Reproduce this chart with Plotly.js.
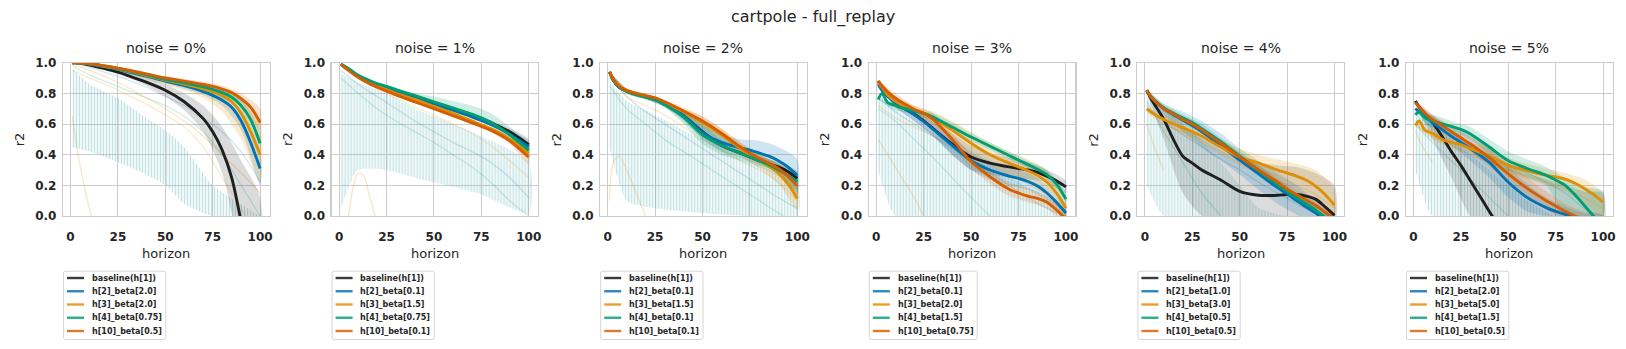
<!DOCTYPE html>
<html><head><meta charset="utf-8">
<script src="https://cdn.plot.ly/plotly-3.0.1.min.js"></script>
<style>html,body{margin:0;padding:0;background:#fff;} #chart{width:1626px;height:349px;}</style>
</head><body><div id="chart"></div>
<script>
// ---------- data ----------
const TITLE = 'cartpole - full_replay';
const NOISE = ['0%', '1%', '2%', '3%', '4%', '5%'];
const X = [1,3,6,10,15,20,25,30,40,50,60,70,75,80,85,90,95,100];
const BX = [1,10,20,30,40,50,60,70,80,90,100];
const CX = [1,10,25,40,50,60,75,100];
const FX = [1,10,20,30,40,50,60,70,80,90,100];
const XTICKS = [0,25,50,75,100];
const YTICKS = [0,0.2,0.4,0.6,0.8,1.0];

const p0_labels = ['baseline(h[1])','h[2]_beta[2.0]','h[3]_beta[2.0]','h[4]_beta[0.75]','h[10]_beta[0.5]'];
const p1_labels = ['baseline(h[1])','h[2]_beta[0.1]','h[3]_beta[1.5]','h[4]_beta[0.75]','h[10]_beta[0.1]'];
const p2_labels = ['baseline(h[1])','h[2]_beta[0.1]','h[3]_beta[1.5]','h[4]_beta[0.1]','h[10]_beta[0.1]'];
const p3_labels = ['baseline(h[1])','h[2]_beta[0.1]','h[3]_beta[2.0]','h[4]_beta[1.5]','h[10]_beta[0.75]'];
const p4_labels = ['baseline(h[1])','h[2]_beta[1.0]','h[3]_beta[3.0]','h[4]_beta[0.5]','h[10]_beta[0.5]'];
const p5_labels = ['baseline(h[1])','h[2]_beta[2.0]','h[3]_beta[5.0]','h[4]_beta[1.5]','h[10]_beta[0.5]'];

// main series (values at X)
const p0_base = [1.0,1.0,0.995,0.985,0.97,0.955,0.938,0.918,0.873,0.82,0.745,0.635,0.55,0.43,0.25,-0.04,null,null];
const p0_h2   = [1.0,1.0,0.997,0.99,0.98,0.968,0.956,0.942,0.912,0.88,0.85,0.812,0.787,0.755,0.71,0.62,0.48,0.31];
const p0_h3   = [1.0,1.0,0.997,0.992,0.983,0.972,0.96,0.947,0.918,0.886,0.86,0.83,0.81,0.785,0.745,0.67,0.55,0.40];
const p0_h4   = [1.0,1.0,0.998,0.993,0.985,0.974,0.963,0.95,0.922,0.892,0.868,0.842,0.826,0.805,0.775,0.72,0.63,0.475];
const p0_h10  = [1.0,1.0,0.998,0.994,0.986,0.976,0.965,0.953,0.927,0.90,0.88,0.858,0.845,0.828,0.805,0.765,0.71,0.61];

const p1_base = [0.99,0.975,0.95,0.915,0.885,0.86,0.84,0.82,0.78,0.74,0.70,0.66,0.635,0.61,0.58,0.55,0.51,0.465];
const p1_h2   = [0.99,0.972,0.948,0.913,0.883,0.858,0.835,0.815,0.775,0.73,0.69,0.647,0.623,0.597,0.567,0.532,0.492,0.45];
const p1_h3   = [0.99,0.97,0.945,0.91,0.877,0.85,0.825,0.80,0.76,0.715,0.67,0.62,0.595,0.57,0.54,0.50,0.46,0.41];
const p1_h4   = [0.99,0.975,0.953,0.918,0.889,0.864,0.845,0.825,0.785,0.745,0.705,0.665,0.64,0.61,0.572,0.53,0.48,0.43];
const p1_h10  = [0.99,0.968,0.94,0.905,0.87,0.84,0.815,0.79,0.745,0.70,0.655,0.608,0.585,0.56,0.528,0.49,0.44,0.385];

const p2_base = [0.94,0.885,0.84,0.815,0.795,0.778,0.76,0.73,0.655,0.55,0.46,0.41,0.385,0.36,0.34,0.32,0.29,0.245];
const p2_h2   = [0.94,0.885,0.84,0.815,0.795,0.778,0.76,0.73,0.655,0.545,0.48,0.445,0.43,0.41,0.39,0.36,0.32,0.265];
const p2_h3   = [0.94,0.89,0.845,0.82,0.80,0.783,0.767,0.74,0.68,0.61,0.53,0.44,0.395,0.36,0.325,0.28,0.21,0.115];
const p2_h4   = [0.94,0.885,0.84,0.813,0.792,0.775,0.757,0.725,0.645,0.53,0.46,0.41,0.385,0.36,0.335,0.30,0.265,0.225];
const p2_h10  = [0.94,0.89,0.845,0.82,0.80,0.785,0.77,0.745,0.685,0.62,0.54,0.45,0.41,0.375,0.345,0.31,0.26,0.195];

const p3_base = [0.88,0.84,0.79,0.74,0.70,0.665,0.62,0.57,0.47,0.385,0.345,0.32,0.31,0.30,0.285,0.26,0.23,0.19];
const p3_h2   = [0.86,0.82,0.78,0.74,0.70,0.66,0.615,0.565,0.46,0.36,0.30,0.26,0.245,0.225,0.195,0.15,0.09,0.02];
const p3_h3   = [0.87,0.84,0.79,0.75,0.715,0.69,0.67,0.64,0.56,0.475,0.40,0.345,0.32,0.295,0.265,0.22,0.15,0.05];
const p3_h4   = [0.76,0.80,0.74,0.72,0.70,0.685,0.67,0.645,0.58,0.515,0.455,0.395,0.365,0.335,0.305,0.27,0.21,0.11];
const p3_h10  = [0.88,0.85,0.81,0.77,0.73,0.695,0.67,0.63,0.50,0.355,0.256,0.175,0.15,0.13,0.115,0.09,0.04,-0.02];

const p4_base = [0.82,0.77,0.71,0.63,0.50,0.39,0.345,0.30,0.235,0.16,0.135,0.135,0.14,0.14,0.13,0.11,0.06,0.005];
const p4_h2   = [0.82,0.78,0.74,0.70,0.66,0.625,0.59,0.55,0.46,0.365,0.275,0.185,0.145,0.10,0.06,0.02,-0.03,-0.07];
const p4_h3   = [0.70,0.68,0.655,0.63,0.60,0.575,0.55,0.52,0.45,0.385,0.345,0.30,0.28,0.26,0.235,0.195,0.14,0.07];
const p4_h4   = [0.82,0.78,0.745,0.705,0.67,0.64,0.61,0.57,0.485,0.39,0.295,0.205,0.16,0.12,0.08,0.04,-0.01,-0.05];
const p4_h10  = [0.82,0.78,0.74,0.70,0.665,0.63,0.60,0.56,0.475,0.385,0.30,0.22,0.175,0.14,0.105,0.07,0.025,-0.02];

const p5_base = [0.75,0.71,0.67,0.61,0.52,0.42,0.33,0.23,0.03,-0.17,null,null,null,null,null,null,null,null];
const p5_h2   = [0.70,0.68,0.65,0.61,0.565,0.52,0.48,0.44,0.35,0.22,0.12,0.055,0.03,0.01,-0.01,null,null,null];
const p5_h3   = [0.59,0.62,0.56,0.54,0.50,0.48,0.465,0.44,0.39,0.33,0.295,0.265,0.255,0.24,0.215,0.18,0.14,0.09];
const p5_h4   = [0.66,0.68,0.64,0.62,0.60,0.585,0.565,0.535,0.45,0.36,0.31,0.265,0.235,0.20,0.14,0.07,0.0,-0.05];
const p5_h10  = [0.74,0.71,0.67,0.63,0.59,0.55,0.51,0.47,0.38,0.275,0.18,0.10,0.065,0.03,0.0,-0.02,null,null];

// confidence bands (values at BX)
const p0_base_lo = [1.0,0.98,0.945,0.905,0.85,0.78,0.69,0.55,0.28,-0.3,-1.0];
const p0_base_hi = [1.0,0.99,0.965,0.94,0.90,0.86,0.80,0.72,0.58,0.36,0.12];
const p0_h2_lo = [1.0,0.985,0.955,0.93,0.895,0.865,0.83,0.79,0.72,0.56,0.2];
const p0_h2_hi = [1.0,0.995,0.97,0.945,0.92,0.89,0.86,0.83,0.78,0.66,0.42];
const p0_h3_lo = [1.0,0.985,0.955,0.925,0.89,0.855,0.82,0.77,0.68,0.50,0.22];
const p0_h3_hi = [1.0,0.995,0.97,0.945,0.915,0.89,0.87,0.85,0.82,0.76,0.62];
const p0_h4_lo = [1.0,0.99,0.96,0.935,0.905,0.875,0.85,0.82,0.77,0.68,0.42];
const p0_h4_hi = [1.0,0.995,0.975,0.955,0.925,0.90,0.88,0.86,0.83,0.76,0.55];
const p0_h10_lo = [1.0,0.99,0.97,0.945,0.915,0.89,0.865,0.84,0.81,0.74,0.56];
const p0_h10_hi = [1.0,0.995,0.98,0.96,0.935,0.91,0.895,0.875,0.85,0.80,0.70];

const p1_base_lo = [0.99,0.905,0.85,0.81,0.77,0.73,0.69,0.65,0.60,0.53,0.43];
const p1_base_hi = [0.99,0.925,0.87,0.83,0.79,0.75,0.71,0.67,0.625,0.57,0.50];
const p1_h2_lo = [0.99,0.905,0.85,0.805,0.765,0.72,0.68,0.635,0.585,0.51,0.41];
const p1_h2_hi = [0.99,0.925,0.87,0.825,0.785,0.74,0.70,0.655,0.605,0.55,0.49];
const p1_h3_lo = [0.99,0.90,0.84,0.79,0.75,0.705,0.66,0.61,0.56,0.48,0.37];
const p1_h3_hi = [0.99,0.92,0.86,0.81,0.77,0.725,0.68,0.63,0.58,0.52,0.45];
const p1_h4_lo = [0.99,0.91,0.855,0.815,0.775,0.725,0.685,0.645,0.595,0.51,0.39];
const p1_h4_hi = [0.99,0.93,0.875,0.835,0.80,0.78,0.75,0.72,0.67,0.58,0.47];
const p1_h10_lo = [0.99,0.895,0.83,0.78,0.735,0.69,0.645,0.60,0.545,0.47,0.34];
const p1_h10_hi = [0.99,0.915,0.85,0.80,0.755,0.71,0.665,0.62,0.575,0.51,0.42];

const p2_base_lo = [0.94,0.80,0.76,0.71,0.62,0.50,0.42,0.38,0.33,0.29,0.20];
const p2_base_hi = [0.94,0.83,0.79,0.75,0.68,0.60,0.50,0.44,0.39,0.35,0.29];
const p2_h2_lo = [0.94,0.80,0.765,0.72,0.63,0.51,0.44,0.40,0.35,0.27,0.13];
const p2_h2_hi = [0.94,0.83,0.79,0.74,0.68,0.59,0.53,0.50,0.49,0.45,0.37];
const p2_h3_lo = [0.94,0.80,0.765,0.72,0.65,0.57,0.48,0.39,0.31,0.21,0.04];
const p2_h3_hi = [0.94,0.83,0.795,0.75,0.70,0.65,0.57,0.48,0.40,0.34,0.22];
const p2_h4_lo = [0.94,0.80,0.76,0.71,0.60,0.47,0.40,0.36,0.32,0.26,0.17];
const p2_h4_hi = [0.94,0.83,0.80,0.75,0.68,0.60,0.54,0.46,0.40,0.34,0.27];
const p2_h10_lo = [0.94,0.80,0.765,0.725,0.66,0.59,0.51,0.42,0.35,0.28,0.15];
const p2_h10_hi = [0.94,0.83,0.795,0.755,0.71,0.65,0.57,0.48,0.40,0.34,0.24];

const p3_base_lo = [0.88,0.71,0.62,0.52,0.40,0.30,0.27,0.25,0.24,0.22,0.15];
const p3_base_hi = [0.88,0.77,0.71,0.63,0.54,0.46,0.41,0.38,0.35,0.30,0.23];
const p3_h2_lo = [0.86,0.71,0.62,0.52,0.40,0.30,0.24,0.20,0.17,0.10,-0.03];
const p3_h2_hi = [0.86,0.77,0.70,0.61,0.52,0.42,0.36,0.31,0.28,0.20,0.07];
const p3_h3_lo = [0.87,0.72,0.66,0.60,0.50,0.40,0.33,0.27,0.22,0.13,0.0];
const p3_h3_hi = [0.87,0.78,0.72,0.68,0.62,0.55,0.48,0.42,0.37,0.30,0.12];
const p3_h4_lo = [0.76,0.69,0.665,0.62,0.56,0.49,0.43,0.37,0.31,0.24,0.07];
const p3_h4_hi = [0.76,0.74,0.70,0.67,0.61,0.54,0.48,0.42,0.36,0.30,0.15];
const p3_h10_lo = [0.88,0.74,0.66,0.59,0.46,0.31,0.21,0.13,0.09,0.05,-0.06];
const p3_h10_hi = [0.88,0.80,0.72,0.67,0.54,0.40,0.30,0.22,0.18,0.13,0.02];

const p4_base_lo = [0.82,0.50,0.15,0.0,-0.05,-0.05,-0.05,-0.05,-0.05,-0.05,-0.05];
const p4_base_hi = [0.82,0.70,0.60,0.50,0.43,0.37,0.35,0.33,0.32,0.28,0.20];
const p4_h2_lo = [0.82,0.66,0.55,0.45,0.36,0.27,0.17,0.08,0.01,-0.05,-0.1];
const p4_h2_hi = [0.82,0.73,0.68,0.62,0.54,0.44,0.36,0.28,0.2,0.1,0.0];
const p4_h3_lo = [0.70,0.60,0.53,0.47,0.40,0.33,0.28,0.22,0.17,0.10,0.0];
const p4_h3_hi = [0.70,0.66,0.61,0.56,0.50,0.44,0.40,0.37,0.34,0.30,0.17];
const p4_h4_lo = [0.82,0.68,0.60,0.54,0.46,0.36,0.26,0.17,0.09,0.01,-0.07];
const p4_h4_hi = [0.82,0.73,0.66,0.60,0.51,0.42,0.33,0.24,0.15,0.07,-0.02];
const p4_h10_lo = [0.82,0.68,0.61,0.54,0.45,0.36,0.27,0.19,0.11,0.04,-0.05];
const p4_h10_hi = [0.82,0.72,0.65,0.58,0.50,0.41,0.33,0.25,0.17,0.10,0.02];

const p5_base_lo = [0.75,0.50,0.25,0.0,-0.1,-0.1,-0.1,-0.1,-0.1,-0.1,-0.1];
const p5_base_hi = [0.75,0.66,0.56,0.47,0.40,0.34,0.28,0.24,0.20,0.16,0.15];
const p5_h2_lo = [0.70,0.56,0.46,0.36,0.25,0.12,0.03,0.0,-0.03,-0.05,-0.05];
const p5_h2_hi = [0.70,0.65,0.58,0.52,0.44,0.32,0.21,0.12,0.06,0.02,0.0];
const p5_h3_lo = [0.59,0.50,0.44,0.40,0.34,0.28,0.24,0.20,0.16,0.08,0.0];
const p5_h3_hi = [0.59,0.57,0.52,0.48,0.44,0.38,0.34,0.31,0.28,0.24,0.15];
const p5_h4_lo = [0.66,0.58,0.55,0.50,0.40,0.30,0.25,0.20,0.0,0.0,0.0];
const p5_h4_hi = [0.66,0.66,0.62,0.58,0.50,0.42,0.37,0.32,0.25,0.19,0.16];
const p5_h10_lo = [0.74,0.59,0.51,0.42,0.32,0.21,0.12,0.04,-0.02,-0.05,-0.05];
const p5_h10_hi = [0.74,0.66,0.59,0.52,0.44,0.34,0.25,0.16,0.08,0.03,0.01];

// oscillating individual runs (envelope at CX)
const p0_comb_up = [0.96,0.86,0.77,0.64,0.56,0.45,0.2,0.0];
const p0_comb_lo = [0.45,0.42,0.35,0.27,0.2,0.08,0.0,0.0];
const p1_comb_up = [0.93,0.87,0.80,0.70,0.65,0.60,0.52,0.35];
const p1_comb_lo = [0.05,0.30,0.30,0.25,0.22,0.19,0.14,0.02];
const p2_comb_up = [0.88,0.75,0.66,0.56,0.50,0.44,0.35,0.2];
const p2_comb_lo = [0.45,0.10,0.05,0.03,0.02,0.01,0.0,0.0];
const p3_comb_up = [0.80,0.70,0.58,0.47,0.40,0.33,0.22,0.05];
const p3_comb_lo = [0.30,0.0,0.0,0.0,0.0,0.0,0.0,0.0];
const p4_comb_up = [0.78,0.68,0.55,0.35,0.2,0.05,0.0,0.0];
const p4_comb_lo = [0.2,0.0,0.0,0.0,0.0,0.0,0.0,0.0];
const p5_comb_up = [0.65,0.60,0.45,0.30,0.2,0.1,0.0,0.0];
const p5_comb_lo = [0.3,0.0,0.0,0.0,0.0,0.0,0.0,0.0];

// faint individual runs
const p0_fa = [1.0,0.97,0.93,0.89,0.84,0.78,0.72,0.64,0.55,0.42,0.22];
const p0_fb = [0.98,0.92,0.87,0.82,0.77,0.72,0.65,0.55,0.40,0.2,0.0];
const p0_fc = [0.95,0.90,0.85,0.79,0.73,0.66,0.58,0.45,0.25,0.05,-0.2];
const p0_fd = [0.99,0.95,0.90,0.84,0.77,0.70,0.62,0.52,0.40,0.28,0.15];
const p0_fe_x = [1,4,8,11]; const p0_fe = [0.65,0.4,0.15,0.0];
const p1_fa = [0.95,0.86,0.78,0.70,0.62,0.55,0.48,0.42,0.35,0.25,0.12];
const p1_fb = [0.90,0.80,0.70,0.62,0.55,0.48,0.40,0.32,0.22,0.10,0.0];
const p1_fc = [0.99,0.90,0.83,0.77,0.71,0.66,0.60,0.54,0.46,0.36,0.25];
const p1_fe_x = [5,8,10,13,16,19]; const p1_fe = [0.0,0.22,0.28,0.26,0.13,0.0];
const p2_fa = [0.90,0.78,0.68,0.60,0.52,0.44,0.36,0.28,0.20,0.12,0.05];
const p2_fb = [0.85,0.70,0.60,0.50,0.42,0.34,0.26,0.18,0.10,0.02,-0.05];
const p2_fc = [0.92,0.78,0.72,0.66,0.58,0.50,0.43,0.36,0.30,0.22,0.10];
const p2_fe_x = [1,3,6,10,15,20]; const p2_fe = [0.1,0.35,0.39,0.3,0.15,0.0];
const p3_fa = [0.78,0.68,0.60,0.52,0.44,0.36,0.28,0.20,0.12,0.05,0.0];
const p3_fb = [0.70,0.62,0.50,0.38,0.25,0.12,0.0,-0.1,-0.2,-0.3,-0.4];
const p3_fc = [0.72,0.64,0.58,0.52,0.46,0.40,0.33,0.27,0.21,0.14,0.06];
const p3_fe_x = [1,10,20,25]; const p3_fe = [0.5,0.32,0.12,0.0];
const p4_fa = [0.72,0.62,0.53,0.45,0.37,0.30,0.22,0.15,0.08,0.02,0.0];
const p4_fb = [0.75,0.55,0.35,0.15,0.0,-0.15,-0.3,-0.45,-0.6,-0.75,-0.9];
const p4_fc = [0.68,0.60,0.55,0.50,0.44,0.38,0.32,0.26,0.20,0.14,0.05];
const p4_fe_x = [1,5,10]; const p4_fe = [0.6,0.45,0.3];
const p5_fa = [0.62,0.58,0.52,0.46,0.40,0.34,0.28,0.22,0.15,0.05,0.0];
const p5_fb = [0.6,0.48,0.36,0.24,0.12,0.0,-0.12,-0.24,-0.36,-0.48,-0.6];
const p5_fc = [0.60,0.52,0.46,0.40,0.35,0.30,0.26,0.22,0.18,0.12,0.05];
const p5_fe_x = [1,5,10]; const p5_fe = [0.55,0.45,0.35];

// ---------- styling ----------
const COLORS = ['#1f1f1f','#0173b2','#de8f05','#029e73','#d55e00'];
const BANDC = ['rgba(40,40,40,0.17)','rgba(1,115,178,0.19)','rgba(222,143,5,0.19)','rgba(2,158,115,0.19)','rgba(213,94,0,0.19)'];
const FAINTC = ['rgba(1,115,178,0.18)','rgba(2,158,115,0.18)','rgba(222,143,5,0.18)','rgba(222,143,5,0.22)'];
const LEGC = ['#3a3a3a','#2a88c2','#e5a02f','#2aad88','#de7a2a'];

const panels = [
  {labels:p0_labels, lines:[p0_base,p0_h2,p0_h3,p0_h4,p0_h10], bands:[[p0_base_lo,p0_base_hi],[p0_h2_lo,p0_h2_hi],[p0_h3_lo,p0_h3_hi],[p0_h4_lo,p0_h4_hi],[p0_h10_lo,p0_h10_hi]], comb:[p0_comb_up,p0_comb_lo], faint:[p0_fa,p0_fb,p0_fc,p0_fd], fe:[p0_fe_x,p0_fe]},
  {labels:p1_labels, lines:[p1_base,p1_h2,p1_h3,p1_h4,p1_h10], bands:[[p1_base_lo,p1_base_hi],[p1_h2_lo,p1_h2_hi],[p1_h3_lo,p1_h3_hi],[p1_h4_lo,p1_h4_hi],[p1_h10_lo,p1_h10_hi]], comb:[p1_comb_up,p1_comb_lo], faint:[p1_fa,p1_fb,p1_fc], fe:[p1_fe_x,p1_fe]},
  {labels:p2_labels, lines:[p2_base,p2_h2,p2_h3,p2_h4,p2_h10], bands:[[p2_base_lo,p2_base_hi],[p2_h2_lo,p2_h2_hi],[p2_h3_lo,p2_h3_hi],[p2_h4_lo,p2_h4_hi],[p2_h10_lo,p2_h10_hi]], comb:[p2_comb_up,p2_comb_lo], faint:[p2_fa,p2_fb,p2_fc], fe:[p2_fe_x,p2_fe]},
  {labels:p3_labels, lines:[p3_base,p3_h2,p3_h3,p3_h4,p3_h10], bands:[[p3_base_lo,p3_base_hi],[p3_h2_lo,p3_h2_hi],[p3_h3_lo,p3_h3_hi],[p3_h4_lo,p3_h4_hi],[p3_h10_lo,p3_h10_hi]], comb:[p3_comb_up,p3_comb_lo], faint:[p3_fa,p3_fb,p3_fc], fe:[p3_fe_x,p3_fe]},
  {labels:p4_labels, lines:[p4_base,p4_h2,p4_h3,p4_h4,p4_h10], bands:[[p4_base_lo,p4_base_hi],[p4_h2_lo,p4_h2_hi],[p4_h3_lo,p4_h3_hi],[p4_h4_lo,p4_h4_hi],[p4_h10_lo,p4_h10_hi]], comb:[p4_comb_up,p4_comb_lo], faint:[p4_fa,p4_fb,p4_fc], fe:[p4_fe_x,p4_fe]},
  {labels:p5_labels, lines:[p5_base,p5_h2,p5_h3,p5_h4,p5_h10], bands:[[p5_base_lo,p5_base_hi],[p5_h2_lo,p5_h2_hi],[p5_h3_lo,p5_h3_hi],[p5_h4_lo,p5_h4_hi],[p5_h10_lo,p5_h10_hi]], comb:[p5_comb_up,p5_comb_lo], faint:[p5_fa,p5_fb,p5_fc], fe:[p5_fe_x,p5_fe]},
];

// ---------- geometry (px) ----------
const W = 1626, H = 349;
const PLOT_L0 = 63, PLOT_STEP = 268.6, PLOT_W = 206.5;
const PLOT_TOP = 62.7, PLOT_BOT = 216;
const px = v => v / W;
const py = v => 1 - v / H;

const FONT = '"DejaVu Sans", sans-serif';
const TXT = '#262626';

const measure = (() => {
  const c = document.createElement('canvas').getContext('2d');
  c.font = 'bold 8px "DejaVu Sans"';
  return s => c.measureText(s).width;
})();

const traces = [];
const layout = {
  width: W, height: H,
  margin: {l:0, r:0, t:0, b:0},
  paper_bgcolor: '#ffffff', plot_bgcolor: '#ffffff',
  showlegend: false,
  font: {family: FONT, color: TXT},
  annotations: [], shapes: []
};

layout.annotations.push({text: TITLE, xref:'paper', yref:'paper', x:0.5, y:py(16.8), xanchor:'center', yanchor:'middle', showarrow:false, font:{size:16, family:FONT, color:TXT}});

const rev = a => a.slice().reverse();

panels.forEach((p, i) => {
  const xa = i === 0 ? 'x' : 'x' + (i + 1);
  const ya = i === 0 ? 'y' : 'y' + (i + 1);
  const L = PLOT_L0 + i * PLOT_STEP, R = L + PLOT_W;
  const axisCommon = {
    showgrid: true, gridcolor: '#cccccc', gridwidth: 1, zeroline: false,
    showline: true, linecolor: '#cccccc', linewidth: 1.2, mirror: true,
    ticks: 'outside', tickcolor: 'rgba(0,0,0,0)',
    tickfont: {size: 12, family: FONT, color: TXT, weight: 'bold'},
    fixedrange: true
  };
  layout['xaxis' + (i === 0 ? '' : i + 1)] = Object.assign({}, axisCommon, {
    domain: [px(L), px(R)], anchor: ya, range: [-3.95, 104.95], ticklen: 9,
    tickvals: XTICKS, ticktext: XTICKS.map(String)
  });
  layout['yaxis' + (i === 0 ? '' : i + 1)] = Object.assign({}, axisCommon, {
    domain: [py(PLOT_BOT), py(PLOT_TOP)], anchor: xa, range: [0, 1], ticklen: 3,
    tickvals: YTICKS, ticktext: YTICKS.map(v => v.toFixed(1))
  });

  // comb (oscillating runs)
  const [cu, cl] = p.comb;
  traces.push({x: CX.concat(rev(CX)), y: cu.concat(rev(cl)), xaxis: xa, yaxis: ya, type:'scatter', mode:'lines',
    fill:'toself', fillcolor:'rgba(120,200,190,0.10)', line:{width:0, shape:'spline', smoothing:0.6}, hoverinfo:'skip'});
  traces.push({x: CX.concat(rev(CX)), y: cu.concat(rev(cl)), xaxis: xa, yaxis: ya, type:'scatter', mode:'lines',
    fill:'toself', fillcolor:'rgba(0,0,0,0)',
    fillpattern:{shape:'|', size:3, solidity:0.35, fgcolor:'rgba(70,165,180,0.28)', bgcolor:'rgba(0,0,0,0)'},
    line:{width:0, shape:'spline', smoothing:0.6}, hoverinfo:'skip'});

  // faint runs
  p.faint.forEach((f, k) => {
    traces.push({x: FX, y: f, xaxis: xa, yaxis: ya, type:'scatter', mode:'lines',
      line:{color: FAINTC[k % FAINTC.length], width:1.3, shape:'spline'}, hoverinfo:'skip'});
  });
  traces.push({x: p.fe[0], y: p.fe[1], xaxis: xa, yaxis: ya, type:'scatter', mode:'lines',
    line:{color: 'rgba(222,143,5,0.22)', width:1.3, shape:'spline'}, hoverinfo:'skip'});

  // bands
  p.bands.forEach((b, k) => {
    traces.push({x: BX.concat(rev(BX)), y: b[0].concat(rev(b[1])), xaxis: xa, yaxis: ya, type:'scatter', mode:'lines',
      fill:'toself', fillcolor: BANDC[k], line:{width:0, shape:'spline', smoothing:0.7}, hoverinfo:'skip'});
  });

  // main lines
  p.lines.forEach((ys, k) => {
    traces.push({x: X, y: ys, xaxis: xa, yaxis: ya, type:'scatter', mode:'lines', name: p.labels[k],
      line:{color: COLORS[k], width:2.9, shape:'spline', smoothing:0.8}, connectgaps:false, hoverinfo:'skip'});
  });

  // subplot title, axis labels
  const cx = (L + R) / 2;
  layout.annotations.push({text: 'noise = ' + NOISE[i], xref:'paper', yref:'paper', x:px(cx), y:py(47.8), xanchor:'center', yanchor:'middle', showarrow:false, font:{size:14, family:FONT, color:TXT}});
  layout.annotations.push({text: 'horizon', xref:'paper', yref:'paper', x:px(cx), y:py(253.5), xanchor:'center', yanchor:'middle', showarrow:false, font:{size:13, family:FONT, color:TXT}});
  layout.annotations.push({text: 'r2', xref:'paper', yref:'paper', x:px(L - 44), y:py((PLOT_TOP + PLOT_BOT) / 2), xanchor:'center', yanchor:'middle', textangle:-90, showarrow:false, font:{size:13, family:FONT, color:TXT}});

  // legend (drawn per subplot)
  const maxW = Math.max.apply(null, p.labels.map(measure));
  const boxL = L + 0.5, boxT = 271.2, boxB = 339.5, boxR = boxL + 27.8 + maxW + 4.5;
  const r = 2;
  const path = `M ${px(boxL + r)} ${py(boxT)} L ${px(boxR - r)} ${py(boxT)} Q ${px(boxR)} ${py(boxT)} ${px(boxR)} ${py(boxT + r)} ` +
               `L ${px(boxR)} ${py(boxB - r)} Q ${px(boxR)} ${py(boxB)} ${px(boxR - r)} ${py(boxB)} ` +
               `L ${px(boxL + r)} ${py(boxB)} Q ${px(boxL)} ${py(boxB)} ${px(boxL)} ${py(boxB - r)} ` +
               `L ${px(boxL)} ${py(boxT + r)} Q ${px(boxL)} ${py(boxT)} ${px(boxL + r)} ${py(boxT)} Z`;
  layout.shapes.push({type:'path', xref:'paper', yref:'paper', path: path, line:{color:'#d6d6d6', width:1}, fillcolor:'rgba(255,255,255,0.8)'});
  p.labels.forEach((lab, k) => {
    const yy = 278 + k * 13.25;
    layout.shapes.push({type:'line', xref:'paper', yref:'paper', x0:px(boxL + 3.5), x1:px(boxL + 20.5), y0:py(yy), y1:py(yy), line:{color: LEGC[k], width:2.4}});
    layout.annotations.push({text: lab, xref:'paper', yref:'paper', x:px(boxL + 26.3), y:py(yy), xanchor:'left', yanchor:'middle', showarrow:false, font:{size:8, family:FONT, color:TXT, weight:'bold'}});
  });
});

Plotly.newPlot('chart', traces, layout, {staticPlot: true, displayModeBar: false});
</script></body></html>
